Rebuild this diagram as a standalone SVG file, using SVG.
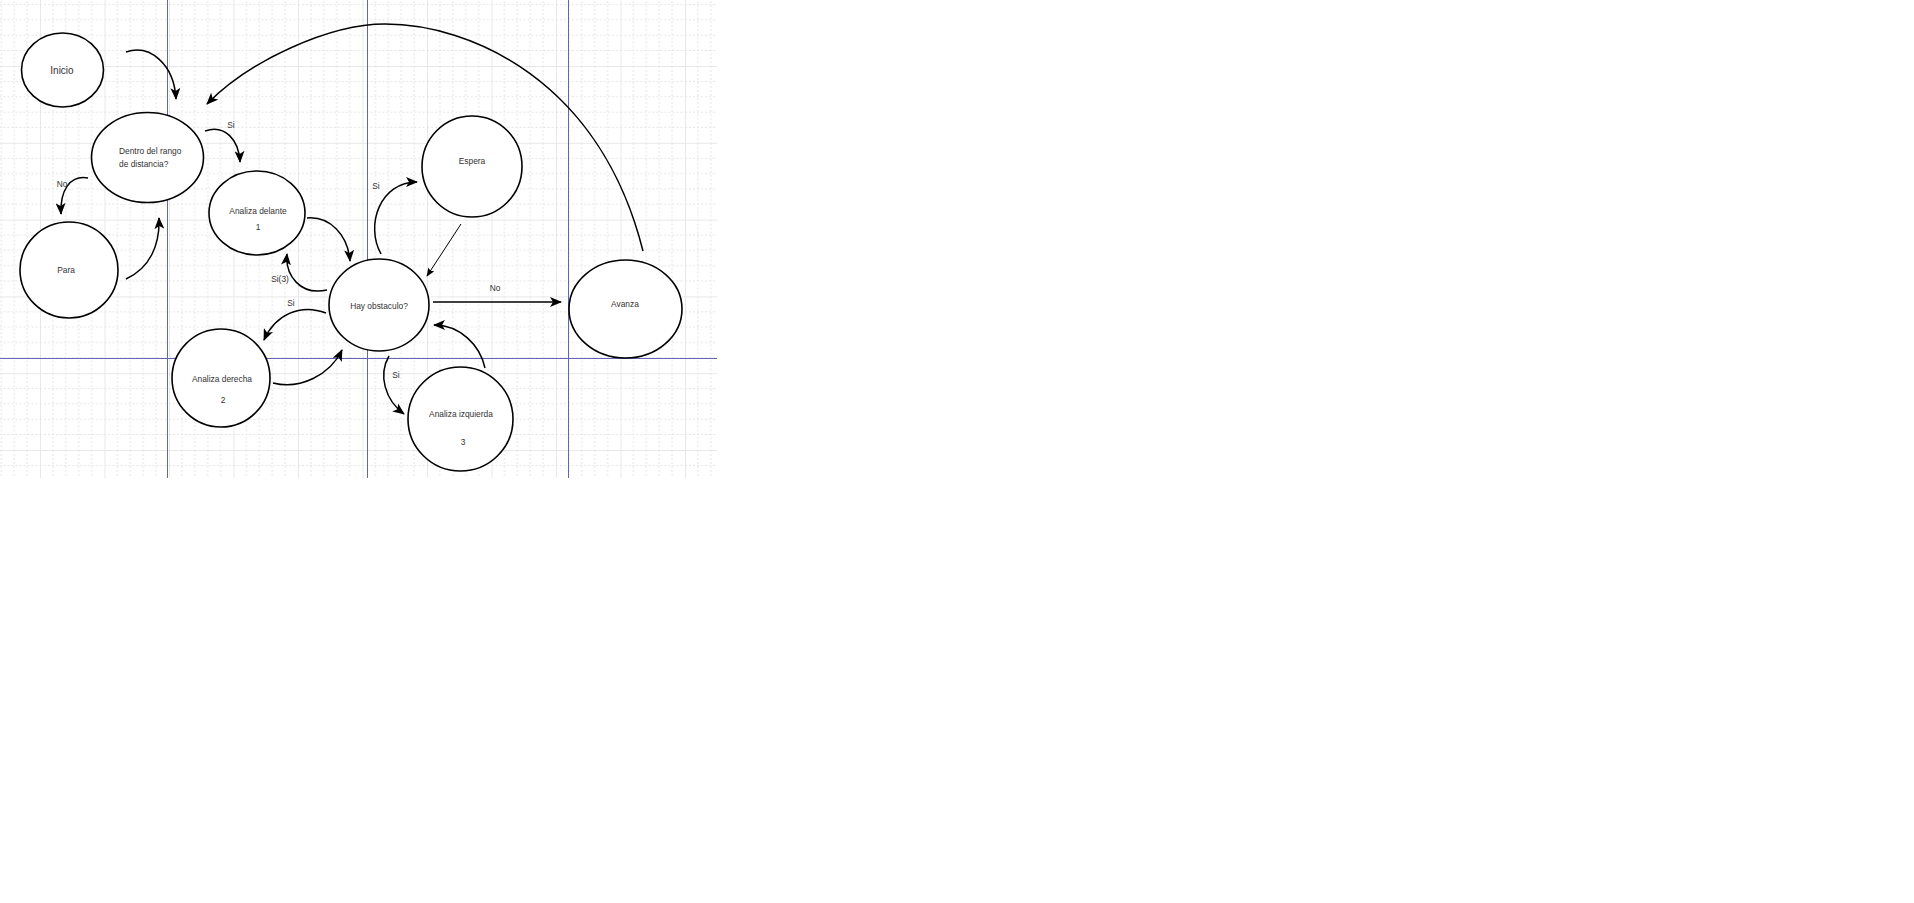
<svg xmlns="http://www.w3.org/2000/svg" width="1914" height="903" viewBox="0 0 1914 903">
<defs>
<pattern id="grid" x="40" y="66" width="64.5" height="76.8" patternUnits="userSpaceOnUse">
<path d="M12.9,0V76.8M25.8,0V76.8M38.7,0V76.8M51.6,0V76.8M0,15.36H64.5M0,30.72H64.5M0,46.08H64.5M0,61.44H64.5" stroke="#e4e4e4" stroke-width="1" stroke-dasharray="2,2" fill="none"/>
<path d="M0.5,0V76.8M0,0.5H64.5" stroke="#e8e8ea" stroke-width="1" fill="none"/>
</pattern>
<marker id="arr" viewBox="0 0 12 10" refX="11" refY="5" markerWidth="12" markerHeight="10" markerUnits="userSpaceOnUse" orient="auto">
<path d="M0,0 L12,5 L0,10 L3,5 z" fill="#000"/>
</marker>
<marker id="arrs" viewBox="0 0 10 8" refX="9" refY="4" markerWidth="9" markerHeight="7" markerUnits="userSpaceOnUse" orient="auto">
<path d="M0,0 L10,4 L0,8 L2,4 z" fill="#000"/>
</marker>
</defs>
<style>
.n{fill:#fff;stroke:#000;stroke-width:1.6}
.t{font-family:"Liberation Sans",Arial,sans-serif;font-size:8.4px;fill:#333;text-anchor:middle}
.c{fill:none;stroke:#000;stroke-width:1.5;marker-end:url(#arr)}
.pg{stroke:#6464b4;stroke-width:1}
</style>
<rect x="0" y="0" width="1914" height="903" fill="#fff"/>
<rect x="0" y="0" width="717" height="478" fill="url(#grid)"/>
<g id="pagebreaks">
<line class="pg" x1="167.5" y1="0" x2="167.5" y2="478"/>
<line class="pg" x1="367.5" y1="0" x2="367.5" y2="478"/>
<line class="pg" x1="568.5" y1="0" x2="568.5" y2="478"/>
<line class="pg" x1="0" y1="358.5" x2="717" y2="358.5"/>
</g>
<g id="connectors">
<path class="c" d="M126,52 C150,44 174,64 176,99"/>
<path class="c" d="M643,251 C600,80 470,24 385,24 C330,24 250,60 207,104"/>
<path class="c" d="M205,131 C225,124 239,140 240,162"/>
<path class="c" d="M88,178 C70,175 60,190 61,214"/>
<path class="c" d="M126,279 C150,268 160,245 159,218"/>
<path class="c" d="M307,218 C330,216 348,235 350,261"/>
<path class="c" d="M381,254 C365,225 380,182 417,182"/>
<path d="M461,224 L427,276" fill="none" stroke="#000" stroke-width="1" marker-end="url(#arrs)"/>
<path class="c" d="M327,290 C300,296 285,275 287,254"/>
<path class="c" d="M326,313 C300,303 275,315 264,340"/>
<path class="c" d="M273,383 C300,390 330,375 342,350"/>
<path class="c" d="M433,302 L561,302"/>
<path class="c" d="M389,356 C378,375 385,400 404,414"/>
<path class="c" d="M485,368 C480,345 460,325 434,325"/>
<text class="t" x="231" y="128">Si</text>
<text class="t" x="62" y="187">No</text>
<text class="t" x="376" y="189">Si</text>
<text class="t" x="280" y="282">Si(3)</text>
<text class="t" x="291" y="306">Si</text>
<text class="t" x="495" y="291">No</text>
<text class="t" x="396" y="378">Si</text>
</g>
<g id="inicio">
<ellipse class="n" cx="62.5" cy="70" rx="41" ry="37"/>
<text class="t" x="62" y="74" style="font-size:10px">Inicio</text>
</g>
<g id="dentro">
<ellipse class="n" cx="147.5" cy="157.5" rx="56" ry="45"/>
<text class="t" x="119" y="154" style="text-anchor:start">Dentro del rango</text>
<text class="t" x="119" y="167" style="text-anchor:start">de distancia?</text>
</g>
<g id="para">
<ellipse class="n" cx="69" cy="270" rx="49" ry="48"/>
<text class="t" x="66" y="273">Para</text>
</g>
<g id="delante">
<ellipse class="n" cx="257" cy="213" rx="48" ry="42"/>
<text class="t" x="258" y="214">Analiza delante</text>
<text class="t" x="258" y="230">1</text>
</g>
<g id="espera">
<ellipse class="n" cx="472" cy="166.5" rx="50" ry="50.5"/>
<text class="t" x="472" y="164">Espera</text>
</g>
<g id="hay">
<ellipse class="n" cx="379" cy="305" rx="50" ry="46"/>
<text class="t" x="379" y="309">Hay obstaculo?</text>
</g>
<g id="avanza">
<ellipse class="n" cx="625.5" cy="309" rx="56.5" ry="49"/>
<text class="t" x="625" y="307">Avanza</text>
</g>
<g id="derecha">
<ellipse class="n" cx="221" cy="378" rx="49" ry="49"/>
<text class="t" x="222" y="382">Analiza derecha</text>
<text class="t" x="223" y="403">2</text>
</g>
<g id="izquierda">
<ellipse class="n" cx="460.5" cy="419" rx="52.5" ry="52"/>
<text class="t" x="461" y="417">Analiza izquierda</text>
<text class="t" x="463" y="445">3</text>
</g>
</svg>
